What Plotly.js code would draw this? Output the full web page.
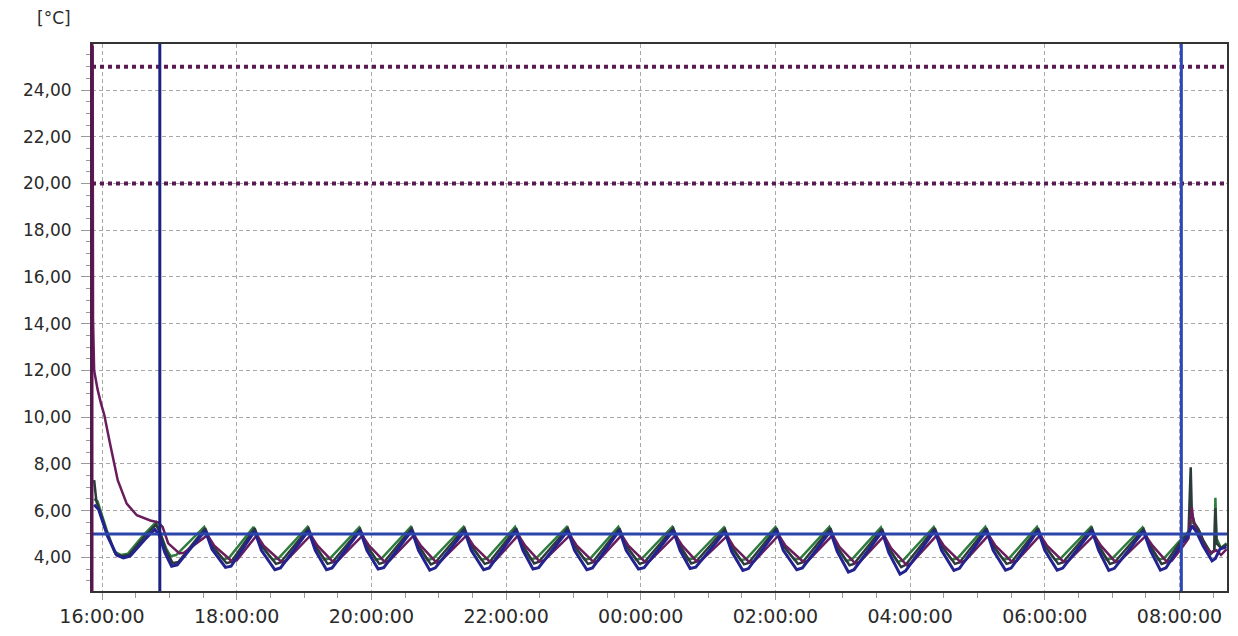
<!DOCTYPE html>
<html>
<head>
<meta charset="utf-8">
<script src="https://cdn.plot.ly/plotly-3.0.1.min.js"></script>
<style>html,body{margin:0;padding:0;background:#fff;}#chart{width:1238px;height:636px;}</style>
</head>
<body>
<div id="chart"></div>
<script>
// ---- data (times HH:MM, evening = day 1, morning = day 2) ----
const yLabel = "[°C]";
const limitLines = [25, 20];
const setpointLine = 5;
const markerTimes = ["16:51:30", "08:01:40"];
const xRange = ["15:51:05", "08:42:20"];

const navyTime = ["15:53","15:57","16:05","16:13","16:19","16:25","16:38","16:47","16:51","16:56","17:02","17:07",
"17:32","17:38","17:50","17:55","18:16","18:22","18:34","18:39","19:04","19:10","19:20","19:25",
"19:50","19:56","20:06","20:11","20:36","20:42","20:52","20:57","21:23","21:29","21:40","21:45",
"22:09","22:15","22:24","22:29","22:55","23:01","23:12","23:17","23:41","23:47","23:58","00:03",
"00:29","00:35","00:44","00:49","01:15","01:21","01:31","01:36","02:01","02:07","02:19","02:24",
"02:49","02:55","03:05","03:10","03:35","03:41","03:51","03:56","04:22","04:28","04:39","04:44",
"05:08","05:14","05:25","05:30","05:54","06:00","06:11","06:16","06:42","06:48","06:57","07:02",
"07:28","07:34","07:43","07:48","08:02","08:07","08:11","08:15","08:21","08:29","08:32","08:36","08:42"];
const navyTemp = [6.25,6.05,4.9,4.1,3.98,4.05,4.75,5.2,4.95,4.2,3.62,3.68,
5.15,4.35,3.57,3.62,5.12,4.3,3.47,3.55,5.15,4.3,3.47,3.55,
5.15,4.3,3.5,3.56,5.15,4.3,3.45,3.55,5.13,4.3,3.47,3.55,
5.15,4.3,3.5,3.56,5.15,4.3,3.47,3.55,5.15,4.3,3.5,3.56,
5.15,4.3,3.52,3.58,5.1,4.25,3.44,3.52,5.15,4.3,3.47,3.55,
5.12,4.25,3.37,3.47,5.1,4.2,3.28,3.42,5.15,4.3,3.44,3.53,
5.15,4.3,3.45,3.54,5.15,4.3,3.45,3.54,5.15,4.3,3.44,3.53,
5.12,4.3,3.45,3.55,4.6,4.85,5.35,5.1,4.5,3.85,3.95,4.35,4.45];

const greenTime = ["15:53","15:56","16:04","16:11","16:17","16:23","16:37","16:48","16:52","16:57","17:01","17:06",
"17:31","17:37","17:48","17:53","18:15","18:21","18:32","18:37","19:03","19:09","19:18","19:23",
"19:49","19:55","20:04","20:09","20:35","20:41","20:50","20:55","21:22","21:28","21:38","21:43",
"22:08","22:14","22:22","22:27","22:54","23:00","23:10","23:15","23:40","23:46","23:56","00:01",
"00:28","00:34","00:42","00:47","01:14","01:20","01:29","01:34","02:00","02:06","02:17","02:22",
"02:48","02:54","03:03","03:08","03:34","03:40","03:49","03:54","04:21","04:27","04:37","04:42",
"05:07","05:13","05:23","05:28","05:53","05:59","06:09","06:14","06:41","06:47","06:55","07:00",
"07:27","07:33","07:41","07:46","08:02","08:08","08:11","08:13","08:17","08:21","08:28","08:31","08:32","08:33","08:37","08:42"];
const greenTemp = [6.5,6.4,5.2,4.25,4.1,4.15,4.95,5.5,5.0,4.4,4.05,4.1,
5.3,4.55,3.92,3.97,5.3,4.55,3.9,3.95,5.3,4.55,3.9,3.95,
5.28,4.55,3.9,3.95,5.3,4.55,3.88,3.95,5.3,4.55,3.9,3.95,
5.3,4.55,3.92,3.97,5.3,4.55,3.9,3.95,5.3,4.55,3.9,3.95,
5.3,4.55,3.9,3.95,5.28,4.5,3.88,3.93,5.3,4.55,3.9,3.95,
5.3,4.5,3.85,3.9,5.28,4.45,3.8,3.88,5.3,4.55,3.9,3.95,
5.3,4.55,3.9,3.95,5.3,4.55,3.9,3.95,5.3,4.55,3.9,3.95,
5.28,4.55,3.9,3.95,4.8,5.1,5.6,5.4,5.15,4.7,4.2,4.3,6.55,4.8,4.4,4.6];

const darkTime = ["15:53","15:55","16:04","16:12","16:18","16:24","16:37","16:48","16:52","16:57","17:03","17:08",
"17:32","17:38","17:51","17:55","18:16","18:22","18:35","18:39","19:04","19:10","19:21","19:25",
"19:50","19:56","20:07","20:11","20:36","20:42","20:53","20:57","21:23","21:29","21:41","21:45",
"22:09","22:15","22:25","22:29","22:55","23:01","23:13","23:17","23:41","23:47","23:59","00:03",
"00:29","00:35","00:45","00:49","01:15","01:21","01:32","01:36","02:01","02:07","02:20","02:24",
"02:49","02:55","03:06","03:10","03:35","03:41","03:52","03:56","04:22","04:28","04:40","04:44",
"05:08","05:14","05:26","05:30","05:54","06:00","06:12","06:16","06:42","06:48","06:58","07:02",
"07:28","07:34","07:44","07:48","08:02","08:08","08:10","08:11","08:13","08:17","08:21","08:28","08:31","08:32","08:33","08:37","08:42"];
const darkTemp = [7.3,6.4,5.1,4.15,4.05,4.1,4.85,5.4,5.05,4.3,3.75,3.8,
5.25,4.5,3.75,3.8,5.25,4.5,3.72,3.78,5.25,4.5,3.72,3.78,
5.22,4.5,3.72,3.78,5.25,4.5,3.7,3.78,5.25,4.5,3.72,3.78,
5.25,4.5,3.74,3.8,5.25,4.5,3.72,3.78,5.25,4.5,3.72,3.78,
5.25,4.5,3.74,3.8,5.22,4.45,3.7,3.76,5.25,4.5,3.72,3.78,
5.25,4.45,3.66,3.72,5.22,4.4,3.58,3.68,5.25,4.5,3.72,3.78,
5.25,4.5,3.72,3.78,5.25,4.5,3.72,3.78,5.25,4.5,3.72,3.78,
5.22,4.5,3.72,3.78,4.75,5.0,7.85,5.9,5.5,5.2,4.75,4.15,4.3,6.1,4.6,4.4,4.55];

const purpleTime = ["15:51:40","15:52","15:53","15:56","15:59","16:02","16:07","16:14","16:22","16:31","16:43","16:50","16:54","16:59","17:09","17:13",
"17:34","17:40","17:56","18:00","18:18","18:24","18:40","18:44","19:06","19:12","19:26","19:30",
"19:52","19:58","20:12","20:16","20:38","20:44","20:58","21:02","21:25","21:31","21:46","21:50",
"22:11","22:17","22:30","22:34","22:57","23:03","23:18","23:22","23:43","23:49","00:04","00:08",
"00:31","00:37","00:50","00:54","01:17","01:23","01:37","01:41","02:03","02:09","02:25","02:29",
"02:51","02:57","03:11","03:15","03:37","03:43","03:57","04:01","04:24","04:30","04:45","04:49",
"05:10","05:16","05:31","05:35","05:56","06:02","06:17","06:21","06:44","06:50","07:03","07:07",
"07:30","07:36","07:49","07:53","08:02","08:08","08:11","08:12","08:14","08:18","08:22","08:28","08:33","08:37","08:42"];
const purpleTemp = [25.9,14.2,12.0,11.2,10.6,10.1,8.9,7.3,6.3,5.8,5.58,5.5,5.3,4.6,4.17,4.2,
4.95,4.5,3.82,3.87,4.95,4.5,3.8,3.85,4.95,4.5,3.8,3.85,
4.93,4.5,3.8,3.85,4.95,4.5,3.78,3.85,4.95,4.5,3.8,3.85,
4.95,4.5,3.82,3.87,4.95,4.5,3.8,3.85,4.95,4.5,3.8,3.85,
4.95,4.5,3.82,3.87,4.92,4.45,3.78,3.83,4.95,4.5,3.8,3.85,
4.95,4.45,3.74,3.8,4.92,4.4,3.66,3.75,4.95,4.5,3.8,3.85,
4.95,4.5,3.8,3.85,4.95,4.5,3.8,3.85,4.95,4.5,3.8,3.85,
4.92,4.5,3.8,3.85,4.4,4.8,6.15,5.7,5.3,4.9,4.5,4.2,4.3,4.1,4.35];

// ---- helpers ----
function toDate(hm){
  const h = +hm.slice(0,2);
  return (h >= 12 ? "2024-03-11 " : "2024-03-12 ") + hm;
}
function series(times, temps, color, width){
  return {type:"scatter", mode:"lines", x: times.map(toDate), y: temps,
          line:{color:color, width:width}, hoverinfo:"skip", showlegend:false};
}

const traces = [
  series(greenTime, greenTemp, "#2f7d3c", 2.5),
  series(darkTime, darkTemp, "#2c3a3c", 2.5),
  series(purpleTime, purpleTemp, "#6a1d5c", 2.5),
  series(navyTime, navyTemp, "#23238f", 3)
];

const fontFam = "DejaVu Sans, Verdana, sans-serif";
const shapes = [];
limitLines.forEach(v => shapes.push({type:"line", xref:"paper", x0:0, x1:1, yref:"y", y0:v, y1:v,
  line:{color:"#5c1a52", width:4, dash:"dot"}, layer:"above"}));
shapes.push({type:"line", xref:"paper", x0:0, x1:1, yref:"y", y0:setpointLine, y1:setpointLine,
  line:{color:"#2b45aa", width:3}, layer:"above"});
shapes.push({type:"line", xref:"x", x0:toDate(markerTimes[0]), x1:toDate(markerTimes[0]), yref:"paper", y0:0, y1:1,
  line:{color:"#1c2282", width:3}, layer:"above"});
shapes.push({type:"line", xref:"x", x0:toDate(markerTimes[1]), x1:toDate(markerTimes[1]), yref:"paper", y0:0, y1:1,
  line:{color:"#2d48b4", width:3}, layer:"above"});
// purple left border
shapes.push({type:"line", xref:"paper", x0:0, x1:0, yref:"paper", y0:0, y1:1,
  line:{color:"#5a1450", width:3}, layer:"above"});

const layout = {
  width:1238, height:636,
  margin:{l:92, r:11, t:44, b:45},
  paper_bgcolor:"#ffffff", plot_bgcolor:"#ffffff",
  separators:",.",
  showlegend:false,
  font:{family:fontFam, size:17, color:"#2a2a2a"},
  xaxis:{
    type:"date",
    range:[toDate(xRange[0]), toDate(xRange[1])],
    tick0:"2024-03-11 00:00", dtick:7200000,
    tickformat:"%H:%M:%S",
    showgrid:true, gridcolor:"#a8a8a8", griddash:"4px,3px", gridwidth:1,
    ticks:"outside", ticklen:7, tickcolor:"#999", tickwidth:1,
    minor:{dtick:1800000, ticks:"outside", ticklen:5, tickcolor:"#999", showgrid:false},
    showline:true, linecolor:"#333", linewidth:2, mirror:true,
    zeroline:false,
    tickfont:{family:fontFam, size:19, color:"#2a2a2a"}
  },
  yaxis:{
    range:[2.56, 25.97],
    tick0:0, dtick:2, tickformat:".2f",
    showgrid:true, gridcolor:"#a8a8a8", griddash:"4px,3px", gridwidth:1,
    ticks:"outside", ticklen:9, tickcolor:"#999", tickwidth:1,
    minor:{dtick:0.5, ticks:"outside", ticklen:4, tickcolor:"#999", showgrid:false},
    showline:true, linecolor:"#333", linewidth:2, mirror:true,
    zeroline:false,
    ticklabelstandoff:6,
    tickfont:{family:fontFam, size:17, color:"#2a2a2a"}
  },
  shapes:shapes,
  annotations:[{text:yLabel, xref:"paper", yref:"paper", x:-0.0335, y:1.0475,
    xanchor:"center", yanchor:"middle", showarrow:false,
    font:{family:fontFam, size:17, color:"#2a2a2a"}}]
};

Plotly.newPlot("chart", traces, layout, {staticPlot:true, displayModeBar:false});
</script>
</body>
</html>
